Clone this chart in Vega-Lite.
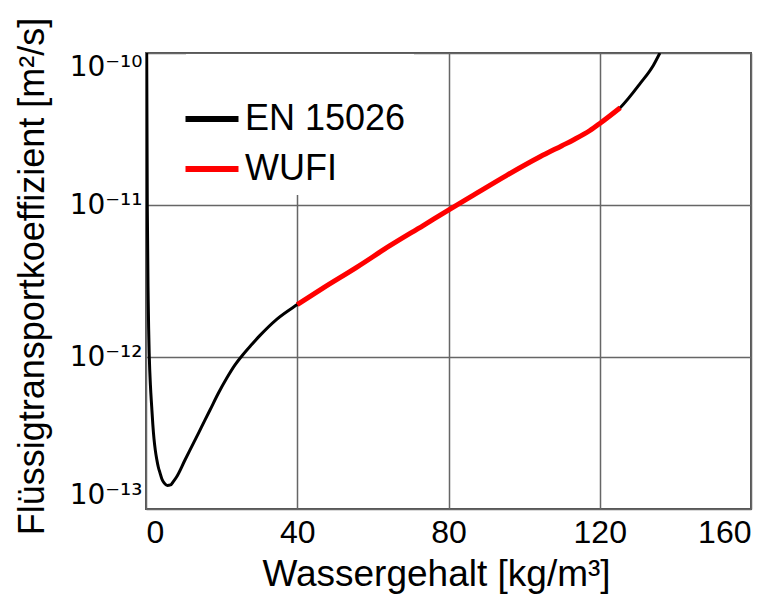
{
  "$schema": "https://vega.github.io/schema/vega-lite/v6.json",
  "autosize": "none",
  "width": 605,
  "height": 456,
  "padding": {"left": 146, "top": 53, "right": 7, "bottom": 94},
  "background": "white",
  "config": {
    "view": {"stroke": "#555555", "strokeWidth": 2},
    "font": "Liberation Sans",
    "axis": {
      "labelFont": "Liberation Sans",
      "titleFont": "Liberation Sans",
      "labelColor": "#000000",
      "titleColor": "#000000",
      "titleFontWeight": "normal",
      "domain": false,
      "ticks": false,
      "gridColor": "#666666",
      "gridWidth": 1.5,
      "gridOpacity": 1
    }
  },
  "data": {
    "values": [
      {"x": 0.185, "k": 1.0e-10, "series": "EN 15026"},
      {"x": 0.344, "k": 9.75e-12, "series": "EN 15026"},
      {"x": 0.58, "k": 2.37e-12, "series": "EN 15026"},
      {"x": 0.873, "k": 1.005e-12, "series": "EN 15026"},
      {"x": 1.164, "k": 6.55e-13, "series": "EN 15026"},
      {"x": 1.507, "k": 4.71e-13, "series": "EN 15026"},
      {"x": 1.798, "k": 3.62e-13, "series": "EN 15026"},
      {"x": 2.116, "k": 2.89e-13, "series": "EN 15026"},
      {"x": 2.459, "k": 2.44e-13, "series": "EN 15026"},
      {"x": 2.83, "k": 2.13e-13, "series": "EN 15026"},
      {"x": 3.25, "k": 1.89e-13, "series": "EN 15026"},
      {"x": 3.7, "k": 1.73e-13, "series": "EN 15026"},
      {"x": 4.23, "k": 1.57e-13, "series": "EN 15026"},
      {"x": 4.84, "k": 1.48e-13, "series": "EN 15026"},
      {"x": 5.63, "k": 1.43e-13, "series": "EN 15026"},
      {"x": 6.48, "k": 1.44e-13, "series": "EN 15026"},
      {"x": 7.27, "k": 1.52e-13, "series": "EN 15026"},
      {"x": 8.12, "k": 1.63e-13, "series": "EN 15026"},
      {"x": 10.31, "k": 2.1e-13, "series": "EN 15026"},
      {"x": 12.52, "k": 2.7e-13, "series": "EN 15026"},
      {"x": 14.73, "k": 3.48e-13, "series": "EN 15026"},
      {"x": 16.93, "k": 4.48e-13, "series": "EN 15026"},
      {"x": 19.13, "k": 5.77e-13, "series": "EN 15026"},
      {"x": 21.33, "k": 7.24e-13, "series": "EN 15026"},
      {"x": 23.54, "k": 8.87e-13, "series": "EN 15026"},
      {"x": 25.3, "k": 1.012e-12, "series": "EN 15026"},
      {"x": 27.96, "k": 1.208e-12, "series": "EN 15026"},
      {"x": 30.15, "k": 1.387e-12, "series": "EN 15026"},
      {"x": 34.56, "k": 1.77e-12, "series": "EN 15026"},
      {"x": 40.0, "k": 2.213e-12, "series": "EN 15026"},
      {"x": 46.9, "k": 2.851e-12, "series": "EN 15026"},
      {"x": 55.7, "k": 3.89e-12, "series": "EN 15026"},
      {"x": 64.5, "k": 5.395e-12, "series": "EN 15026"},
      {"x": 73.3, "k": 7.328e-12, "series": "EN 15026"},
      {"x": 80.2, "k": 9.333e-12, "series": "EN 15026"},
      {"x": 86.6, "k": 1.161e-11, "series": "EN 15026"},
      {"x": 95.4, "k": 1.567e-11, "series": "EN 15026"},
      {"x": 104.2, "k": 2.075e-11, "series": "EN 15026"},
      {"x": 110.0, "k": 2.455e-11, "series": "EN 15026"},
      {"x": 113.0, "k": 2.679e-11, "series": "EN 15026"},
      {"x": 117.4, "k": 3.09e-11, "series": "EN 15026"},
      {"x": 120.1, "k": 3.451e-11, "series": "EN 15026"},
      {"x": 125.4, "k": 4.365e-11, "series": "EN 15026"},
      {"x": 130.7, "k": 6.31e-11, "series": "EN 15026"},
      {"x": 134.2, "k": 8.32e-11, "series": "EN 15026"},
      {"x": 135.9, "k": 1.0e-10, "series": "EN 15026"},
      {"x": 40.0, "k": 2.213e-12, "series": "WUFI"},
      {"x": 46.9, "k": 2.851e-12, "series": "WUFI"},
      {"x": 55.7, "k": 3.89e-12, "series": "WUFI"},
      {"x": 64.5, "k": 5.395e-12, "series": "WUFI"},
      {"x": 73.3, "k": 7.328e-12, "series": "WUFI"},
      {"x": 80.2, "k": 9.333e-12, "series": "WUFI"},
      {"x": 86.6, "k": 1.161e-11, "series": "WUFI"},
      {"x": 95.4, "k": 1.567e-11, "series": "WUFI"},
      {"x": 104.2, "k": 2.075e-11, "series": "WUFI"},
      {"x": 110.0, "k": 2.455e-11, "series": "WUFI"},
      {"x": 113.0, "k": 2.679e-11, "series": "WUFI"},
      {"x": 117.4, "k": 3.09e-11, "series": "WUFI"},
      {"x": 120.1, "k": 3.451e-11, "series": "WUFI"},
      {"x": 125.4, "k": 4.365e-11, "series": "WUFI"}
    ]
  },
  "encoding": {
    "x": {
      "field": "x",
      "type": "quantitative",
      "scale": {"domain": [0, 160], "nice": false, "zero": false},
      "axis": {
        "values": [0, 40, 80, 120, 160],
        "title": "Wassergehalt [kg/m³]",
        "titleFontSize": 37,
        "titlePadding": 8,
        "titleX": 290,
        "labelFontSize": 32,
        "labelPadding": 8,
        "labelFlush": true
      }
    },
    "y": {
      "field": "k",
      "type": "quantitative",
      "scale": {"type": "log", "domain": [1e-13, 1e-10], "nice": false},
      "axis": {
        "values": [1e-13, 1e-12, 1e-11, 1e-10],
        "labelExpr": "datum.value >= 9e-11 ? '10⁻¹⁰' : datum.value >= 9e-12 ? '10⁻¹¹' : datum.value >= 9e-13 ? '10⁻¹²' : '10⁻¹³'",
        "labelFont": "DejaVu Sans",
        "title": "Flüssigtransportkoeffizient [m²/s]",
        "titleFontSize": 36,
        "titleX": -95,
        "titleY": 223,
        "labelFontSize": 28,
        "labelPadding": 4,
        "labelFlush": true
      }
    },
    "color": {
      "field": "series",
      "type": "nominal",
      "scale": {"domain": ["EN 15026", "WUFI"], "range": ["#000000", "#ff0000"]},
      "legend": {
        "title": " ",
        "titleFontSize": 20,
        "titlePadding": 19,
        "orient": "none",
        "legendX": 40,
        "legendY": 1,
        "direction": "vertical",
        "fillColor": "white",
        "padding": 8,
        "rowPadding": 14,
        "symbolType": "M-2,0H2",
        "symbolSize": 702,
        "symbolStrokeWidth": 6,
        "labelFont": "Liberation Sans",
        "labelFontSize": 36,
        "labelColor": "#000000",
        "labelOffset": 15,
        "labelLimit": 400
      }
    }
  },
  "layer": [
    {
      "transform": [{"filter": "datum.series == 'EN 15026'"}],
      "mark": {"type": "line", "strokeWidth": 3, "clip": true, "interpolate": "monotone"}
    },
    {
      "transform": [{"filter": "datum.series == 'WUFI'"}],
      "mark": {"type": "line", "strokeWidth": 5, "clip": true, "interpolate": "monotone"}
    }
  ]
}
